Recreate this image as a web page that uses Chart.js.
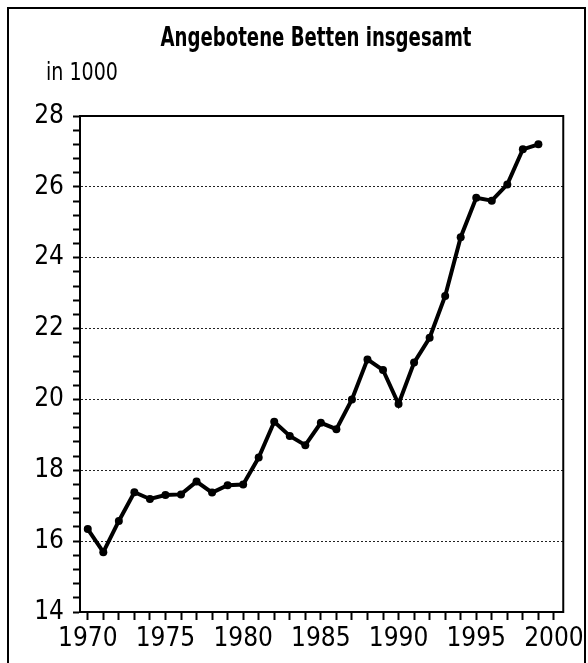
<!DOCTYPE html>
<html><head><meta charset="utf-8">
<script src="https://cdn.jsdelivr.net/npm/chart.js@4"></script>
<style>html,body{margin:0;padding:0;background:#fff}canvas{display:block}</style>
</head><body><canvas id="c" width="588" height="663"></canvas>
<script>
const TITLE = 'Angebotene Betten insgesamt';
const UNIT_LABEL = 'in 1000';
const years = [1970,1971,1972,1973,1974,1975,1976,1977,1978,1979,1980,1981,1982,1983,1984,1985,1986,1987,1988,1989,1990,1991,1992,1993,1994,1995,1996,1997,1998,1999];
const beds  = [16.34,15.69,16.57,17.38,17.19,17.30,17.32,17.68,17.37,17.58,17.60,18.36,19.37,18.97,18.71,19.34,19.16,20.00,21.13,20.83,19.87,21.04,21.74,22.92,24.58,25.69,25.61,26.07,27.06,27.20];
const yMin = 14, yMax = 28, yLabelStep = 2, yMinorStep = 0.4;
const xMin = 1969.5, xMax = 2000.6, xLabelStep = 5, xMinorStep = 1;
const FONT = '"Liberation Sans Narrow", "Arial Narrow", "DejaVu Sans Condensed", sans-serif';

function isMult(v, step){ const r = v / step; return Math.abs(r - Math.round(r)) < 1e-6; }

function condensedText(ctx, text, x, y, width, align){
  const w = ctx.measureText(text).width;
  const k = Math.min(1, width / w);
  ctx.save();
  ctx.translate(x, y);
  ctx.scale(k, 1);
  ctx.textAlign = align;
  ctx.fillText(text, 0, 0);
  ctx.restore();
}

const decor = {
  id: 'decor',
  beforeDatasetsDraw(chart){
    const ctx = chart.ctx, a = chart.chartArea;
    ctx.save();
    ctx.strokeStyle = '#000'; ctx.lineWidth = 2;
    ctx.strokeRect(a.left, a.top, a.right - a.left, a.bottom - a.top);
    ctx.strokeRect(8, 8, 577, 700);
    ctx.fillStyle = '#000'; ctx.textBaseline = 'alphabetic';
    ctx.font = 'bold 26px ' + FONT;
    condensedText(ctx, TITLE, 316, 46, 311, 'center');
    ctx.font = '25px ' + FONT;
    condensedText(ctx, UNIT_LABEL, 46, 80, 72, 'left');
    ctx.restore();
  }
};

new Chart(document.getElementById('c'), {
  type: 'line',
  data: { datasets: [{
    data: years.map((y, i) => ({ x: y, y: beds[i] })),
    borderColor: '#000', backgroundColor: '#000', borderWidth: 4,
    pointRadius: 4, pointBackgroundColor: '#000', pointBorderWidth: 0, tension: 0
  }]},
  options: {
    responsive: false, animation: false, devicePixelRatio: 1,
    layout: { padding: { top: 116, right: 16, left: 0, bottom: 0 } },
    plugins: { legend: { display: false }, tooltip: { enabled: false } },
    scales: {
      x: {
        type: 'linear', min: xMin, max: xMax,
        afterFit: s => { s.height = 51; },
        border: { display: true, color: '#000', width: 2 },
        grid: { drawOnChartArea: false, drawTicks: true, tickLength: 8, tickColor: '#000', tickWidth: 2, color: '#000' },
        ticks: { stepSize: xMinorStep, includeBounds: false, autoSkip: false, maxRotation: 0, padding: 4,
          color: '#000', font: { family: FONT, size: 26 },
          callback: v => isMult(v, xLabelStep) ? String(Math.round(v)) : '' }
      },
      y: {
        min: yMin, max: yMax,
        afterFit: s => { s.width = 80; },
        border: { display: true, color: '#000', width: 2, dash: [2, 2] },
        grid: {
          drawTicks: true, tickLength: 7, tickColor: '#000', tickWidth: 2, lineWidth: 1,
          color: c => { const v = c.tick ? c.tick.value : NaN; return (isMult(v, yLabelStep) && v > yMin && v < yMax) ? '#222' : 'rgba(0,0,0,0)'; }
        },
        ticks: { stepSize: yMinorStep, includeBounds: false, autoSkip: false, padding: 9,
          color: '#000', font: { family: FONT, size: 26 },
          callback: v => isMult(v, yLabelStep) ? String(Math.round(v)) : '' }
      }
    }
  },
  plugins: [decor]
});
</script>
</body></html>
